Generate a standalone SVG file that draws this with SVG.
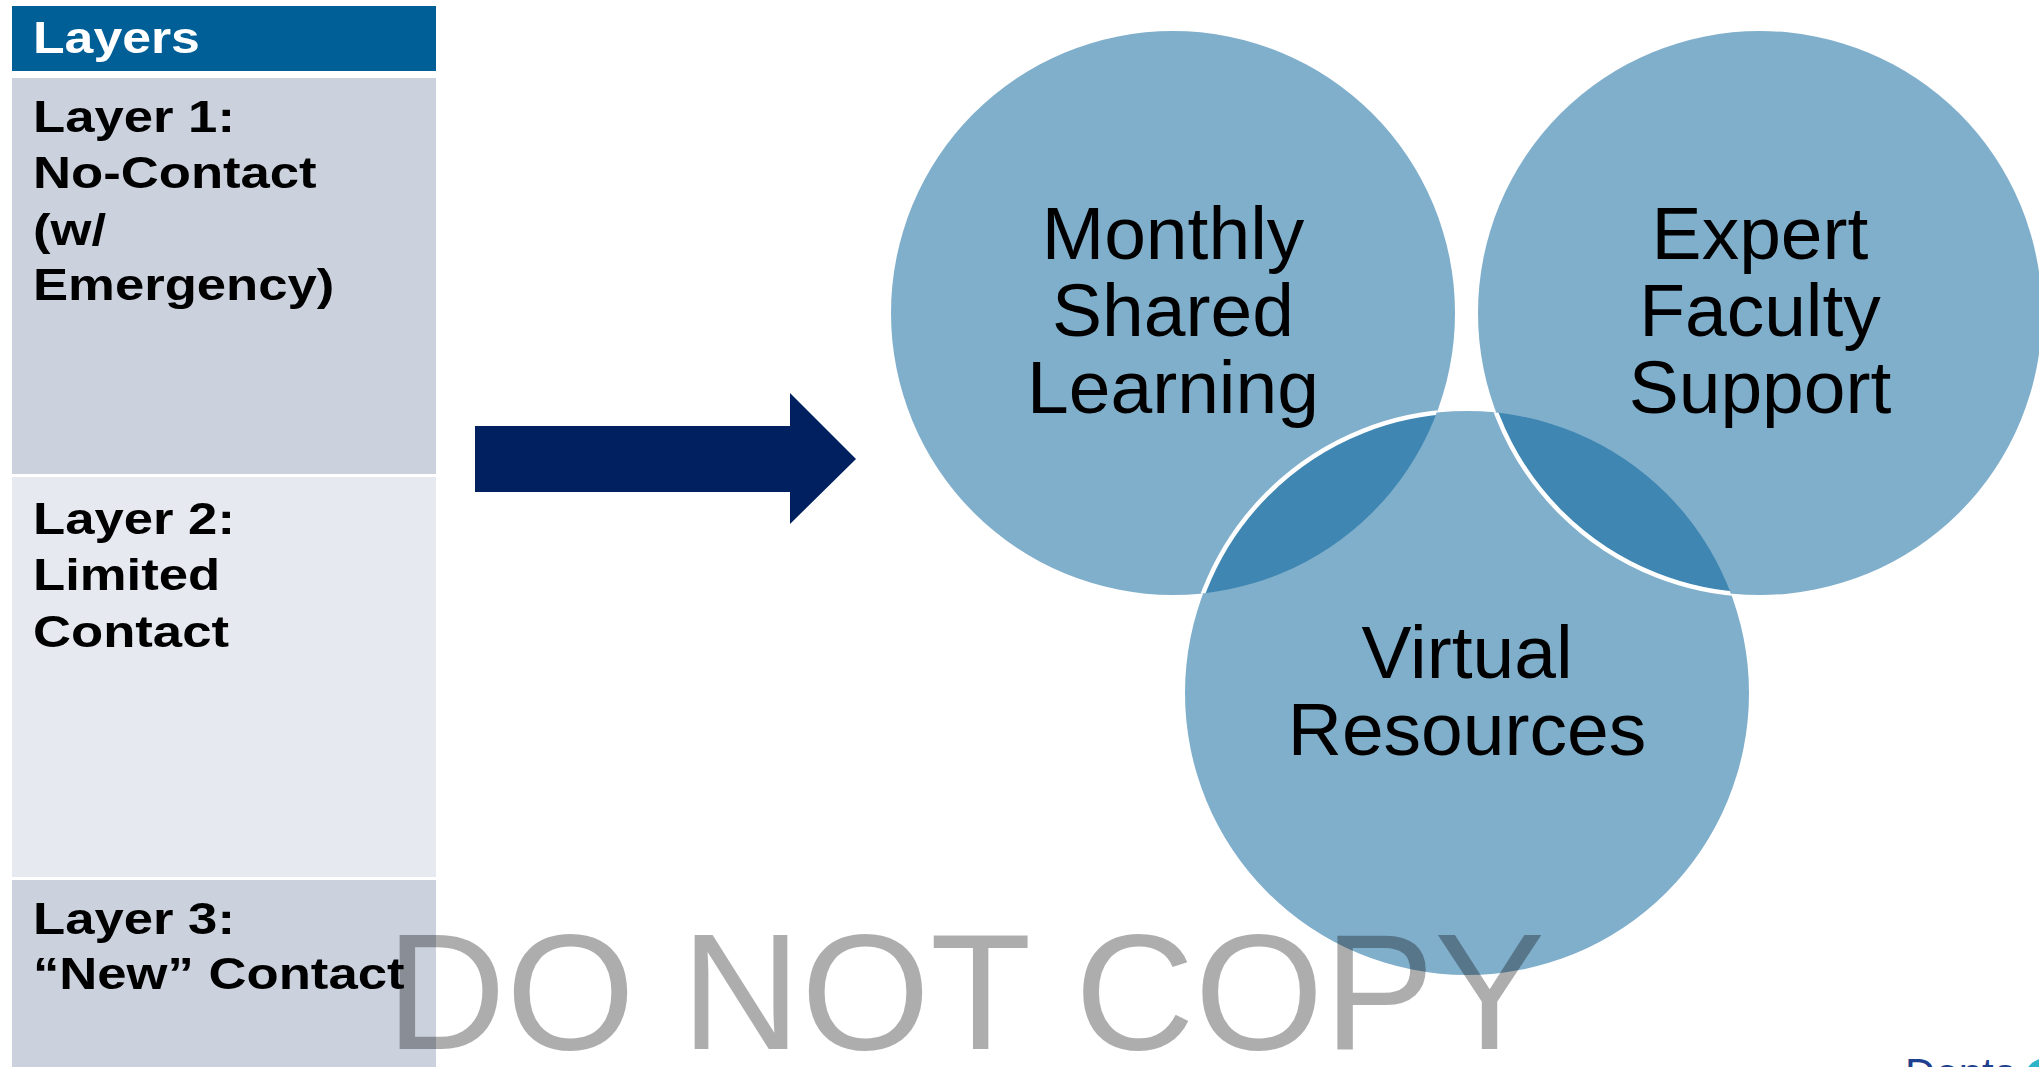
<svg xmlns="http://www.w3.org/2000/svg" width="2039" height="1067" viewBox="0 0 2039 1067">
  <style>
    .cell-title { font-family: "Liberation Sans", Arial, sans-serif; font-weight: bold; font-size: 45px; fill: #000; }
    .hdr { font-family: "Liberation Sans", Arial, sans-serif; font-weight: bold; font-size: 45px; fill: #fff; }
    .venn { fill: #80afcc; }
    .lens { fill: #3f87b2; }
    .vtext { font-family: "Liberation Sans", Arial, sans-serif; font-size: 75px; fill: #000; text-anchor: middle; }
    .wm { font-family: "Liberation Sans", Arial, sans-serif; font-size: 166px; fill: #000; fill-opacity: 0.32; }
  </style>
  <defs>
    <circle id="c1" cx="1173" cy="313" r="282"/>
    <circle id="c2" cx="1760" cy="313" r="282"/>
    <circle id="c3" cx="1467" cy="693" r="282"/>
    <clipPath id="clip1"><use href="#c1"/></clipPath>
    <clipPath id="clip2"><use href="#c2"/></clipPath>
    <clipPath id="clip3"><use href="#c3"/></clipPath>
  </defs>
  <rect width="2039" height="1067" fill="#fff"/>

  <g id="table">
    <g id="header">
      <rect x="12" y="6" width="424" height="65" fill="#005f96"/>
      <text class="hdr" transform="translate(33,53) scale(1.15,1)">Layers</text>
    </g>
    <g id="layer1">
      <rect x="12" y="78" width="424" height="396" fill="#cbd2de"/>
      <g transform="translate(33,0) scale(1.17,1)">
        <text class="cell-title" x="0" y="132">Layer 1:</text>
        <text class="cell-title" x="0" y="188">No-Contact</text>
        <text class="cell-title" x="0" y="245">(w/</text>
        <text class="cell-title" x="0" y="300">Emergency)</text>
      </g>
    </g>
    <g id="layer2">
      <rect x="12" y="477" width="424" height="400" fill="#e6e9ef"/>
      <g transform="translate(33,0) scale(1.17,1)">
        <text class="cell-title" x="0" y="534">Layer 2:</text>
        <text class="cell-title" x="0" y="590">Limited</text>
        <text class="cell-title" x="0" y="647">Contact</text>
      </g>
    </g>
    <g id="layer3">
      <rect x="12" y="880" width="424" height="187" fill="#cbd2de"/>
      <g transform="translate(33,0) scale(1.17,1)">
        <text class="cell-title" x="0" y="934">Layer 3:</text>
        <text class="cell-title" x="0" y="989">“New” Contact</text>
      </g>
    </g>
  </g>

  <g id="connectors">
    <polygon points="475,426 790,426 790,393 856,459 790,524 790,492 475,492" fill="#002060"/>
  </g>

  <g id="venn">
    <g id="circle-monthly">
      <use href="#c1" class="venn"/>
    </g>
    <g id="circle-expert">
      <use href="#c2" class="venn"/>
    </g>
    <g id="circle-virtual">
      <use href="#c3" class="venn"/>
    </g>
    <g id="overlaps">
      <use href="#c3" class="lens" clip-path="url(#clip1)"/>
      <use href="#c3" class="lens" clip-path="url(#clip2)"/>
      <use href="#c3" fill="none" stroke="#fff" stroke-width="4.5" clip-path="url(#clip1)"/>
      <use href="#c2" fill="none" stroke="#fff" stroke-width="4.5" clip-path="url(#clip3)"/>
    </g>
    <g id="labels">
      <text class="vtext" x="1173" y="259">Monthly</text>
      <text class="vtext" x="1173" y="336">Shared</text>
      <text class="vtext" x="1173" y="413">Learning</text>
      <text class="vtext" x="1760" y="259">Expert</text>
      <text class="vtext" x="1760" y="336">Faculty</text>
      <text class="vtext" x="1760" y="413">Support</text>
      <text class="vtext" x="1467" y="678">Virtual</text>
      <text class="vtext" x="1467" y="755">Resources</text>
    </g>
  </g>

  <g id="logo">
    <text x="1905" y="1088" font-family="'Liberation Sans', Arial, sans-serif" font-size="42" fill="#1f3f8f">Denta</text>
    <circle cx="2046" cy="1080" r="22" fill="#2eb4c8"/>
  </g>

  <g id="watermark">
    <text class="wm" x="386" y="1049">DO NOT COPY</text>
  </g>
</svg>
